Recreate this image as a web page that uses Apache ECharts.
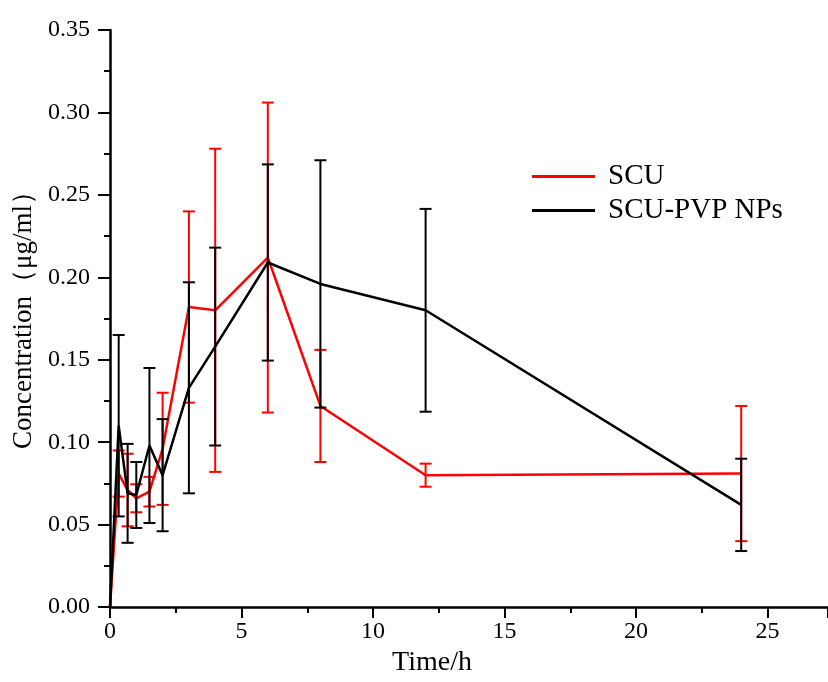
<!DOCTYPE html>
<html><head><meta charset="utf-8">
<script src="https://cdn.jsdelivr.net/npm/echarts@6/dist/echarts.min.js"></script>
<style>html,body{margin:0;padding:0;background:#fff}#c{width:828px;height:682px}</style>
</head><body><div id="c"></div>
<script>
const times   = [0, 0.33, 0.67, 1, 1.5, 2, 3, 4, 6, 8, 12, 24];
const scuMean = [0, 0.081, 0.071, 0.066, 0.070, 0.096, 0.182, 0.180, 0.212, 0.122, 0.080, 0.081];
const scuErr  = [null, 0.014, 0.022, 0.0085, 0.009, 0.034, 0.058, 0.098, 0.094, 0.034, 0.007, 0.041];
const pvpMean = [0, 0.110, 0.069, 0.068, 0.098, 0.080, 0.133, 0.158, 0.209, 0.196, 0.180, 0.062];
const pvpErr  = [null, 0.055, 0.030, 0.020, 0.047, 0.034, 0.064, 0.060, 0.0595, 0.075, 0.0615, 0.028];
const seriesNames = ['SCU', 'SCU-PVP NPs'];
const xTicks = {min: 0, max: 27.3, interval: 5};
const yTicks = {min: 0, max: 0.35, interval: 0.05};

const FONT = '"Liberation Serif", "Times New Roman", serif';
const chart = echarts.init(document.getElementById('c'));

function errData(mean, err) {
  const out = [];
  times.forEach((t, i) => { if (err[i] != null) out.push([t, mean[i] - err[i], mean[i] + err[i]]); });
  return out;
}
function errSeries(mean, err, color) {
  return {
    type: 'custom', silent: true, z: 3,
    data: errData(mean, err),
    encode: {x: 0, y: [1, 2]},
    renderItem: function (params, api) {
      const x = api.value(0);
      const lo = api.coord([x, api.value(1)]);
      const hi = api.coord([x, api.value(2)]);
      const w = 6;
      const st = {stroke: color, lineWidth: 2};
      return {type: 'group', children: [
        {type: 'line', shape: {x1: lo[0], y1: lo[1], x2: hi[0], y2: hi[1]}, style: st},
        {type: 'line', shape: {x1: lo[0] - w, y1: lo[1], x2: lo[0] + w, y2: lo[1]}, style: st},
        {type: 'line', shape: {x1: hi[0] - w, y1: hi[1], x2: hi[0] + w, y2: hi[1]}, style: st}
      ]};
    }
  };
}

chart.setOption({
  animation: false,
  backgroundColor: '#fff',
  grid: {left: 110, right: 0, top: 30, bottom: 70, containLabel: false},
  legend: {
    left: 527, top: 157, orient: 'vertical', itemGap: 5,
    itemWidth: 63, itemHeight: 3, icon: 'rect',
    textStyle: {fontFamily: FONT, fontSize: 29, color: '#000', lineHeight: 29, padding: [0, 0, 0, 8]},
    data: seriesNames
  },
  xAxis: {
    type: 'value', min: xTicks.min, max: xTicks.max, interval: xTicks.interval,
    name: 'Time/h', nameLocation: 'middle', nameGap: 40,
    nameTextStyle: {fontFamily: FONT, fontSize: 28, color: '#000', padding: [0, 74, 0, 0]},
    axisLine: {show: true, onZero: false, lineStyle: {color: '#000', width: 2.5}},
    axisTick: {show: true, length: 11, lineStyle: {color: '#000', width: 2}},
    minorTick: {show: true, splitNumber: 2, length: 6, lineStyle: {color: '#000', width: 2}},
    axisLabel: {fontFamily: FONT, fontSize: 24, color: '#000', margin: 13, showMaxLabel: false},
    splitLine: {show: false}
  },
  yAxis: {
    type: 'value', min: yTicks.min, max: yTicks.max, interval: yTicks.interval,
    name: 'Concentration（μg/ml）', nameLocation: 'middle', nameGap: 68, nameRotate: 90,
    nameTextStyle: {fontFamily: FONT, fontSize: 27, color: '#000', padding: [0, 0, 0, 10]},
    axisLine: {show: true, onZero: false, lineStyle: {color: '#000', width: 2.5}},
    axisTick: {show: true, length: 12, lineStyle: {color: '#000', width: 2}},
    minorTick: {show: true, splitNumber: 2, length: 6, lineStyle: {color: '#000', width: 2}},
    axisLabel: {fontFamily: FONT, fontSize: 24, color: '#000', margin: 20,
      formatter: v => v.toFixed(2)},
    splitLine: {show: false}
  },
  series: [
    {name: seriesNames[0], type: 'line', z: 2, symbol: 'none', color: '#ff0000',
     lineStyle: {color: '#ff0000', width: 2.5},
     data: times.map((t, i) => [t, scuMean[i]])},
    errSeries(scuMean, scuErr, '#ff0000'),
    {name: seriesNames[1], type: 'line', z: 4, symbol: 'none', color: '#000000',
     lineStyle: {color: '#000000', width: 2.5},
     data: times.map((t, i) => [t, pvpMean[i]])},
    Object.assign(errSeries(pvpMean, pvpErr, '#000000'), {z: 5})
  ]
});
</script></body></html>
